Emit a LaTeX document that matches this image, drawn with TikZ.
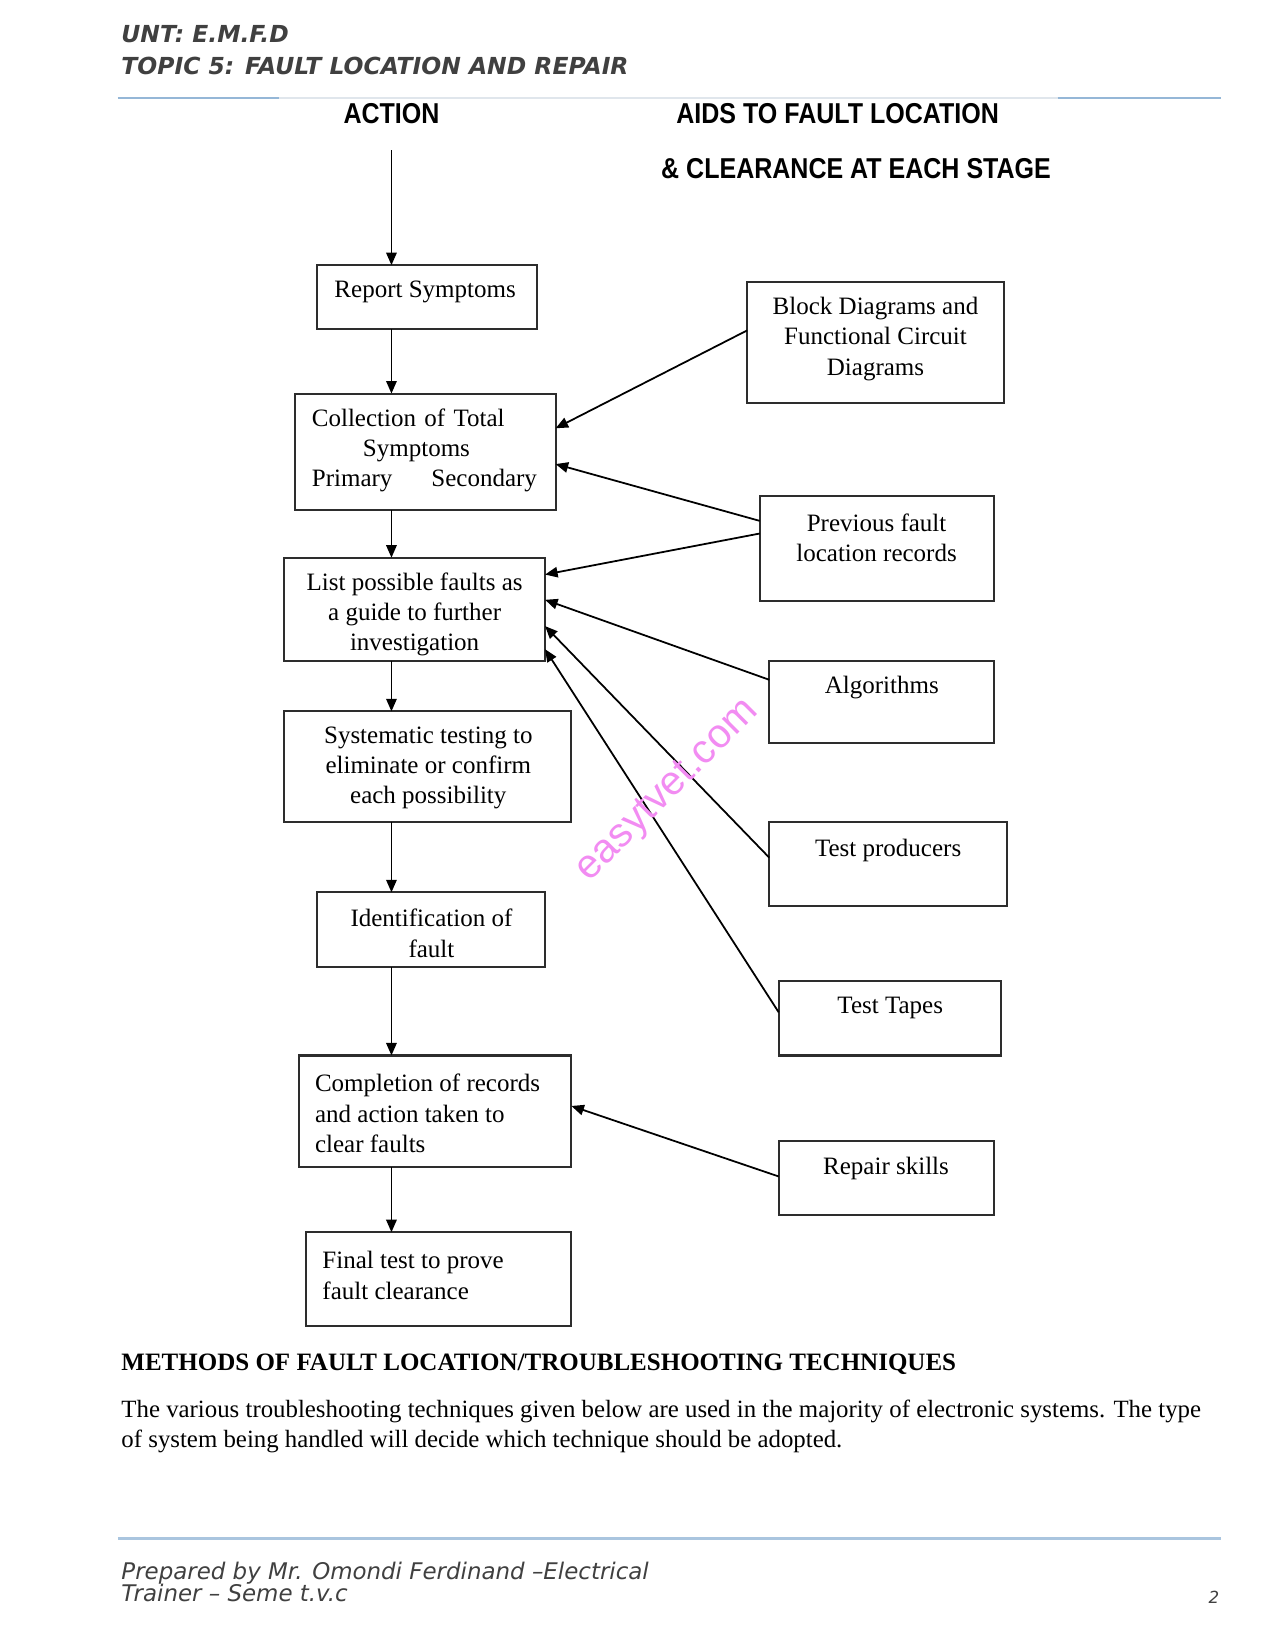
\documentclass[tikz,border=0pt]{standalone}
\usepackage{fontspec}
\setmainfont{Liberation Serif}
\newfontfamily\hdsans{DejaVu Sans}
\newfontfamily\capsans[FakeStretch=0.87]{Liberation Sans}
\newfontfamily\wmfont{Liberation Sans}
\usetikzlibrary{arrows.meta,calc}
\definecolor{rulebl}{RGB}{149,183,215}
\definecolor{rulegr}{RGB}{224,230,236}
\definecolor{hdgray}{RGB}{64,64,64}
\definecolor{wmpink}{RGB}{242,140,242}
\definecolor{boxln}{RGB}{45,45,45}
\begin{document}
\begin{tikzpicture}[x=0.50495pt,y=-0.50495pt,
  bx/.style 2 args={draw=boxln, line width=1pt, minimum width=#1*0.50495pt, minimum height=#2*0.50495pt, inner sep=0pt, outer sep=0pt},
  txt/.style={inner sep=0pt, font=\fontsize{12}{14.5}\selectfont, align=center},
  txtl/.style={inner sep=0pt, font=\fontsize{12}{14.5}\selectfont, align=left, anchor=west},
  hdr/.style={inner sep=0pt, font=\capsans\bfseries\fontsize{13.8}{16}\selectfont},
  arr/.style={line width=0.85pt, -{Triangle[length=6pt,width=5pt]}},
  hd/.style={inner sep=0pt, anchor=base west, text=hdgray, font=\hdsans\bfseries\itshape\fontsize{11.25}{13}\selectfont},
  ft/.style={inner sep=0pt, anchor=base west, text=hdgray, font=\hdsans\itshape\fontsize{11}{12}\selectfont},
  body/.style={inner sep=0pt, anchor=base west, font=\fontsize{11.92}{14.5}\selectfont}]
\path[use as bounding box, fill=white] (0,0) rectangle (1212,1568);

% page header
\node[hd] (unt) at (115,40) {UNT: E.M.F.D};
\node[hd] (topic) at (115,71) {TOPIC 5: FAULT LOCATION AND REPAIR};
\draw[rulegr, line width=0.8pt] (112,93) -- (1160,93);
\draw[rulebl, line width=1pt] (112,93) -- (265,93);
\draw[rulebl, line width=1pt] (1005,93) -- (1160,93);

% column headers
\node[hdr] (hact) at (372,108) {ACTION};
\node[hdr] (haid1) at (796,108) {AIDS TO FAULT LOCATION};
\node[hdr] (haid2) at (813.5,160) {\& CLEARANCE AT EACH STAGE};

% action boxes
\node[bx={209}{61}] (rep) at (405.5,282.5) {};
\node[bx={248}{111}] (col) at (404,429.5) {};
\node[bx={248}{98}] (lst) at (394,579) {};
\node[bx={273}{105}] (sys) at (406.5,728.5) {};
\node[bx={217}{71}] (idn) at (409.5,883.5) {};
\node[bx={259}{106}] (cmp) at (413.5,1056) {};
\node[bx={252}{89}] (fin) at (417,1215.5) {};

\node[txt] (repT) at (404,277) {Report Symptoms};
\node[txtl, text width=108pt] (colT) at (296,428) {Collection of Total\\\hspace*{24.5pt}Symptoms\\Primary\hfill Secondary};
\node[txt] (lstT) at (394,584) {List possible faults as\\a guide to further\\investigation};
\node[txt] (sysT) at (407,730) {Systematic testing to\\eliminate or confirm\\each possibility};
\node[txt] (idnT) at (410,887) {Identification of\\fault};
\node[txtl] (cmpT) at (299,1058) {Completion of records\\and action taken to\\clear faults};
\node[txtl] (finT) at (306,1212) {Final test to prove\\fault clearance};

% aid boxes
\node[bx={244}{115}] (blk) at (832,325.5) {};
\node[bx={223}{100}] (prv) at (833.5,521) {};
\node[bx={214}{78}] (alg) at (838,667) {};
\node[bx={226}{80}] (tpr) at (844,821) {};
\node[bx={211}{71}] (ttp) at (845.5,967.5) {};
\node[bx={205}{71}] (rps) at (842.5,1119.5) {};

\node[txt] (blkT) at (832,322) {Block Diagrams and\\Functional Circuit\\Diagrams};
\node[txt] (prvT) at (833,511) {Previous fault\\location records};
\node[txt] (algT) at (838,653) {Algorithms};
\node[txt] (tprT) at (844,808) {Test producers};
\node[txt] (ttpT) at (846,958) {Test Tapes};
\node[txt] (rpsT) at (842,1110) {Repair skills};

% main flow
\coordinate (start) at (372,143);
\draw[arr] (start) -- (rep.north -| start);
\draw[arr] (rep.south -| start) -- (col.north -| start);
\draw[arr] (col.south -| start) -- (lst.north -| start);
\draw[arr] (lst.south -| start) -- (sys.north -| start);
\draw[arr] (sys.south -| start) -- (idn.north -| start);
\draw[arr] (idn.south -| start) -- (cmp.north -| start);
\draw[arr] (cmp.south -| start) -- (fin.north -| start);

% aids
\draw[arr] ($(blk.west)+(0,-11.5)$) -- ($(col.east)+(0,-22.5)$);
\draw[arr] ($(prv.west)+(0,-26)$) -- ($(col.east)+(0,11.5)$);
\draw[arr] ($(prv.west)+(0,-14)$) -- ($(lst.east)+(0,-33)$);
\draw[arr] ($(alg.west)+(0,-21)$) -- ($(lst.east)+(0,-9)$);
\draw[arr] ($(tpr.west)+(0,-6)$) -- ($(lst.east)+(0,16)$);
\draw[arr] ($(ttp.west)+(0,-5.5)$) -- ($(lst.east)+(0,38)$);
\draw[arr] ($(rps.west)+(0,-1.5)$) -- ($(cmp.east)+(0,-5)$);

% watermark
\node[rotate=45, text=wmpink, inner sep=0pt, font=\wmfont\fontsize{19.5}{20}\selectfont] (wm) at (635,752) {easytvet.com};

% text below
\node[inner sep=0pt, anchor=west, font=\bfseries\fontsize{12}{14.5}\selectfont] (meth) at (115,1296) {METHODS OF FAULT LOCATION/TROUBLESHOOTING TECHNIQUES};
\node[body] (p1) at (115,1347) {The various troubleshooting techniques given below are used in the majority of electronic systems. The type};
\node[body] (p2) at (115,1376) {of system being handled will decide which technique should be adopted.};

% footer
\draw[rulebl!80, line width=1pt] (112,1462) -- (1160,1462);
\node[ft] (f1) at (115,1501) {Prepared by Mr. Omondi Ferdinand –Electrical};
\node[ft] (f2) at (115,1522) {Trainer – Seme t.v.c};
\node[inner sep=0pt, anchor=base east, text=hdgray, font=\hdsans\itshape\fontsize{8}{10}\selectfont] (pg) at (1159,1524) {2};
\end{tikzpicture}
\end{document}
